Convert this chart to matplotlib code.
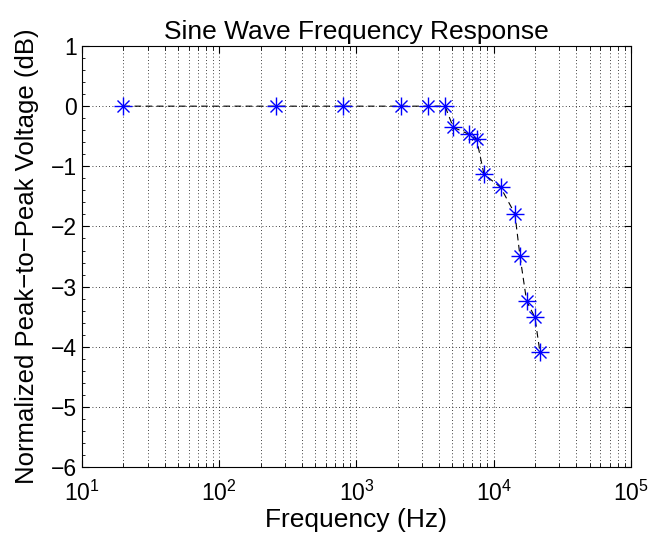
import matplotlib
matplotlib.use("Agg")
import matplotlib.pyplot as plt
from matplotlib.ticker import LogLocator, NullFormatter, MultipleLocator

freq_hz = [20, 260, 800, 2110, 3340, 4420, 5070, 6640, 7510, 8490, 11230, 14280, 15540, 17380, 19970, 21700]
gain_db = [0, 0, 0, 0, 0, 0, -0.35, -0.47, -0.55, -1.13, -1.35, -1.79, -2.49, -3.24, -3.51, -4.08]

y_ticks = [-6, -5, -4, -3, -2, -1, 0, 1]
x_ticks = [1e1, 1e2, 1e3, 1e4, 1e5]

plt.rcParams['font.family'] = ['Liberation Sans', 'DejaVu Sans']
plt.rcParams['mathtext.fontset'] = 'custom'
plt.rcParams['mathtext.rm'] = 'Liberation Sans'
plt.rcParams['mathtext.it'] = 'Liberation Sans'
plt.rcParams['mathtext.bf'] = 'Liberation Sans'
fig = plt.figure(figsize=(6.62, 5.35), dpi=100)
ax = fig.add_axes([0.124, 0.127, 0.829, 0.787])

ax.plot(freq_hz, gain_db, linestyle=(0, (6, 4)), color='black', linewidth=0.8, zorder=2)
ax.plot(freq_hz, gain_db, linestyle='none', marker='+', color='blue', markersize=13,
        markeredgewidth=1.0, zorder=3)
ax.plot(freq_hz, gain_db, linestyle='none', marker='x', color='blue', markersize=9,
        markeredgewidth=1.0, zorder=3)

ax.set_xscale('log')
ax.set_xlim(1e1, 1e5)
ax.set_ylim(-6, 1)
ax.set_yticks(y_ticks)
ax.set_xticks(x_ticks)
ax.xaxis.set_minor_locator(LogLocator(base=10, subs=range(2, 10)))
ax.xaxis.set_minor_formatter(NullFormatter())
ax.yaxis.set_minor_locator(MultipleLocator(0.2))

ax.grid(True, which='major', axis='both', linestyle=(0, (1, 3)), color='black', linewidth=0.6)
ax.grid(True, which='minor', axis='x', linestyle=(0, (1, 3)), color='black', linewidth=0.6)

ax.tick_params(which='both', direction='in', top=True, right=True, labelsize=16.5)
ax.tick_params(axis='y', which='minor', right=False, length=2.5)
ax.tick_params(which='major', length=5)
ax.tick_params(axis='x', which='minor', length=3)
ax.tick_params(axis='x', which='major', pad=10)
ax.tick_params(axis='y', which='major', pad=4)
for s in ax.spines.values():
    s.set_linewidth(0.8)

ax.set_title('Sine Wave Frequency Response', fontsize=19, pad=5)
ax.set_xlabel('Frequency (Hz)', fontsize=19, labelpad=1)
ax.set_ylabel('Normalized Peak\u2212to\u2212Peak Voltage (dB)', fontsize=18.5, labelpad=8)

fig.savefig('out.png', dpi=100)
